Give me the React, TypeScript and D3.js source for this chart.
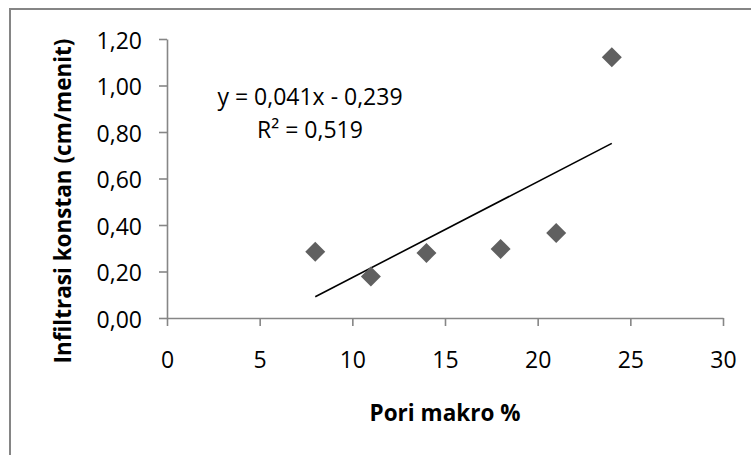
import * as d3 from "d3";
import { useEffect, useState } from "react";

// data
const poriMakro = [8, 11, 14, 18, 21, 24];
const infiltrasi = [0.285, 0.178, 0.28, 0.297, 0.366, 1.122];
const xTicks = [0, 5, 10, 15, 20, 25, 30];
const yTicks = [0, 0.2, 0.4, 0.6, 0.8, 1.0, 1.2];
const equationLines = ["y = 0,041x - 0,239", "R² = 0,519"];
const xTitle = "Pori makro %";
const yTitle = "Infiltrasi konstan (cm/menit)";

const FONT = "'Open Sans', 'Noto Sans', sans-serif";

export default function App() {
  const [ref, setRef] = useState<HTMLDivElement | null>(null);
  const width = 751;
  const height = 455;

  useEffect(() => {
    if (!ref) return;
    const margin = { top: 39, right: 28, bottom: 137, left: 167 };

    const svg = d3
      .select(ref)
      .append("svg")
      .attr("width", width)
      .attr("height", height)
      .style("position", "absolute")
      .style("left", 0)
      .style("top", 0)
      .style("font-family", FONT);

    svg.append("rect").attr("width", width).attr("height", height).attr("fill", "#fff");

    // chart frame (runs off the picture on the right and bottom)
    svg
      .append("rect")
      .attr("x", 10)
      .attr("y", 9)
      .attr("width", width + 20)
      .attr("height", height + 20)
      .attr("fill", "none")
      .attr("stroke", "#858585")
      .attr("stroke-width", 2);

    const x = d3
      .scaleLinear()
      .domain([0, 30])
      .range([margin.left, width - margin.right]);
    const y = d3
      .scaleLinear()
      .domain([0, 1.2])
      .range([height - margin.bottom, margin.top]);

    const fmtY = (d: number) => d3.format(".2f")(d).replace(".", ",");

    const gx = svg
      .append("g")
      .attr("transform", `translate(0,${y(0)})`)
      .call(
        d3
          .axisBottom(x)
          .tickValues(xTicks)
          .tickSizeInner(8)
          .tickSizeOuter(0)
          .tickPadding(26)
          .tickFormat((d) => String(d))
      );
    const gy = svg
      .append("g")
      .attr("transform", `translate(${x(0)},0)`)
      .call(
        d3
          .axisLeft(y)
          .tickValues(yTicks)
          .tickSizeInner(8)
          .tickSizeOuter(0)
          .tickPadding(17)
          .tickFormat((d) => fmtY(d as number))
      );
    [gx, gy].forEach((g) => {
      g.selectAll("path, line").attr("stroke", "#868686").attr("stroke-width", 1.6);
      g.selectAll("text")
        .attr("fill", "#000")
        .style("font-family", FONT)
        .style("font-size", "23px");
    });
    gy.selectAll("text").attr("dy", "0.4em");

    // linear trend line from least squares
    const mx = d3.mean(poriMakro)!;
    const my = d3.mean(infiltrasi)!;
    const sxy = d3.sum(poriMakro, (v, i) => (v - mx) * (infiltrasi[i] - my));
    const sxx = d3.sum(poriMakro, (v) => (v - mx) ** 2);
    const slope = sxy / sxx;
    const icpt = my - slope * mx;
    const ext = d3.extent(poriMakro) as [number, number];
    svg
      .append("path")
      .datum(ext.map((v) => [v, icpt + slope * v]))
      .attr("fill", "none")
      .attr("stroke", "#000")
      .attr("stroke-width", 1.6)
      .attr(
        "d",
        d3
          .line()
          .x((d) => x(d[0]))
          .y((d) => y(d[1]))
      );

    // diamond markers
    svg
      .append("g")
      .selectAll("path")
      .data(poriMakro)
      .enter()
      .append("path")
      .attr("d", d3.symbol(d3.symbolSquare, 200)())
      .attr(
        "transform",
        (d, i) => `translate(${x(d)},${y(infiltrasi[i])}) rotate(45)`
      )
      .attr("fill", "#606060");

    // equation label
    svg
      .append("text")
      .attr("text-anchor", "middle")
      .style("font-size", "23px")
      .selectAll("tspan")
      .data(equationLines)
      .enter()
      .append("tspan")
      .attr("x", 310)
      .attr("y", (d, i) => 105 + i * 33)
      .text((d) => d);

    svg
      .append("text")
      .attr("x", (x(0) + x(30)) / 2)
      .attr("y", 421)
      .attr("text-anchor", "middle")
      .style("font-size", "22.5px")
      .style("font-weight", "bold")
      .text(xTitle);

    svg
      .append("text")
      .attr("transform", `translate(71,201) rotate(-90)`)
      .attr("text-anchor", "middle")
      .style("font-size", "22.5px")
      .style("font-weight", "bold")
      .text(yTitle);

    return () => {
      d3.select(ref).select("svg").remove();
    };
  }, [ref]);

  return <div ref={setRef} />;
}
